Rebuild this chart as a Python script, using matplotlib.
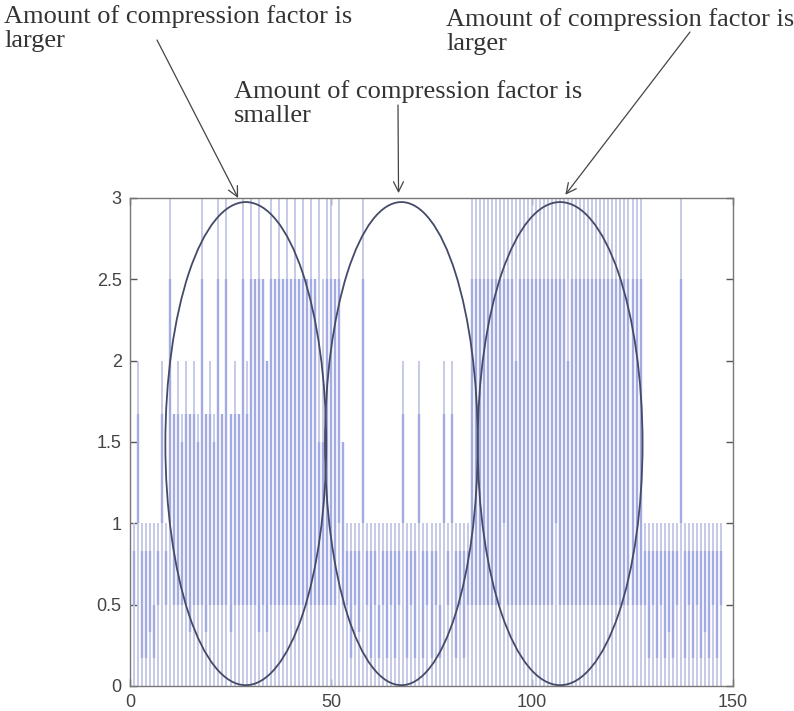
import matplotlib
matplotlib.use('Agg')
import matplotlib.pyplot as plt
from matplotlib.patches import Ellipse

# ----------------------------------------------------
#  Compression factor per sample (one column per sample)
# ----------------------------------------------------
samples = list(range(1, 148))

# top of each column
peak = [
    1, 2, 1, 1, 1, 1, 1, 2, 1, 3,
    1.67, 2, 1.67, 2, 1.67, 2, 1.67, 3, 1.67, 2,
    1.67, 3, 1.67, 3, 1.67, 2, 1.67, 3, 2, 3,
    2.5, 3, 2.5, 2, 3, 2.5, 3, 2.5, 3, 2.5,
    3, 2.5, 3, 2.5, 3, 2.5, 3, 2.5, 3, 3,
    2.5, 3, 1.5, 1, 1, 1, 1, 3, 1, 1,
    1, 1, 1, 1, 1, 1, 1, 2, 1, 1,
    1, 2, 1, 1, 1, 1, 1, 2, 1, 2,
    1, 1, 1, 1, 3, 3, 3, 3, 3, 3,
    3, 3, 3, 3, 3, 3, 3, 3, 3, 3,
    3, 3, 3, 3, 3, 3, 3, 3, 3, 3,
    3, 3, 3, 3, 3, 3, 3, 3, 3, 3,
    3, 3, 3, 3, 3, 3, 3, 1, 1, 1,
    1, 1, 1, 1, 1, 1, 3, 1, 1, 1,
    1, 1, 1, 1, 1, 1, 1,
]

# denser part of each column (lower / upper edge)
band_lo = [
    .5, 1, .17, .17, .33, .17, .5, 1, .5, 1,
    .5, .5, .5, .5, .33, .5, .5, .5, .33, .5,
    .5, .5, .5, .5, .33, .5, .5, .5, .5, .5,
    .5, .33, .5, .33, .5, .5, .5, .5, .5, .5,
    .5, .5, .5, .5, .5, .5, .5, .5, .5, .5,
    .5, 1, .5, .5, .17, .5, .33, 1, .5, .17,
    .5, .17, .5, .17, .5, .17, .5, 1, .17, .5,
    .17, 1, .17, .5, .17, .5, .17, 1, .5, 1,
    .17, .5, .17, .5, .5, .5, .5, .5, .5, .5,
    .5, .5, 1, .5, .5, .5, .5, .5, .5, .5,
    .5, .5, .5, .5, .5, 1, .5, .5, .5, .5,
    .5, .5, .5, .5, .5, .5, .5, .5, .5, .5,
    .5, .5, .5, .5, .5, .5, .5, .5, .17, .5,
    .17, .5, .17, .33, .17, .5, 1, .17, .5, .17,
    .5, .17, .33, .17, .5, .17, .5,
]

band_hi = [
    .83, 1.67, .83, .83, .83, .5, .83, 1.67, .83, 2.5,
    1.67, 1.67, 1.5, 1.67, 1.67, 1.67, 1.5, 2.5, 1.67, 1.67,
    1.5, 2.5, 1.67, 2.5, 1.67, 1.67, 1.67, 2.5, 1.67, 2.5,
    2.5, 2.5, 2.5, 2, 2.5, 2.5, 2.5, 2.5, 2.5, 2.5,
    2.5, 2.5, 2.5, 2.5, 2.5, 2.5, 1.5, 1.5, 2.5, 2.5,
    2.5, 2.5, 1.5, .83, .83, .83, .83, 2.5, .83, .83,
    .83, .5, .83, .83, .83, .83, .83, 1.67, .83, .83,
    .83, 1.67, .83, .83, .83, .83, .5, 1.67, .83, 1.67,
    .83, .83, .83, .83, 2.5, 2.5, 2.5, 2.5, 2.5, 2.5,
    2.5, 2.5, 2.5, 2.5, 2.5, 2, 2.5, 2.5, 2.5, 2.5,
    2.5, 2.5, 2.5, 2.5, 2.5, 2.5, 2.5, 2.5, 2, 2.5,
    2.5, 2.5, 2.5, 2.5, 2.5, 2.5, 2.5, 2.5, 2.5, 2.5,
    2.5, 2.5, 2.5, 2.5, 2.5, 2.5, 2.5, .83, .83, .83,
    .83, .83, .83, .83, .83, .83, 2.5, .83, .83, .83,
    .83, .83, .83, .83, .83, .83, .83,
]

# regions circled on the plot
ell_cx = [28.8, 67.5, 107.0]
ell_cy = [1.49, 1.49, 1.49]
ell_w = [40.0, 38.0, 41.0]
ell_h = [2.97, 2.97, 2.97]

labels = [
    'Amount of compression factor is\nlarger',
    'Amount of compression factor is\nsmaller',
    'Amount of compression factor is\nlarger',
]
label_px = [(4, 5), (234, 80), (446, 8)]          # figure pixels, from top-left
arrow_tail_px = [(157, 40), (398, 105), (690, 32)]
arrow_tip = [(26.9, 3.0), (66.8, 3.03), (108.3, 3.02)]

W, H = 794, 711
fig = plt.figure(figsize=(W / 100, H / 100), dpi=100)
ax = fig.add_axes([130 / W, 25 / H, 603 / W, 488 / H])

ax.vlines(samples, 0, peak, colors='#bfc4e5', linewidth=1.25)
ax.vlines(samples, band_lo, band_hi, colors='#a2abe2', linewidth=1.7)

for cx, cy, w, h in zip(ell_cx, ell_cy, ell_w, ell_h):
    ax.add_patch(Ellipse((cx, cy), w, h, fill=False, edgecolor='#454a66',
                         linewidth=1.3, zorder=3))

ax.set_xlim(0, 150)
ax.set_ylim(0, 3)
ax.set_xticks([0, 50, 100, 150])
ax.set_yticks([0, 0.5, 1, 1.5, 2, 2.5, 3])
ax.set_yticklabels(['0', '0.5', '1', '1.5', '2', '2.5', '3'])
ax.tick_params(direction='in', length=5, width=1, top=True, right=True,
               labelsize=13, labelcolor='#444', color='#555', pad=6)
for lbl in ax.get_xticklabels() + ax.get_yticklabels():
    lbl.set_family('Liberation Sans')
for s in ax.spines.values():
    s.set_color('#777')
    s.set_linewidth(1.0)

for text, (tx, ty) in zip(labels, label_px):
    fig.text(tx / W, 1 - ty / H, text, family='Liberation Serif', fontsize=19,
             color='#333', ha='left', va='top', linespacing=1.12)

for (px, py), tip in zip(arrow_tail_px, arrow_tip):
    ax.annotate('', xy=tip, xycoords='data',
                xytext=(px, H - py), textcoords='figure pixels',
                arrowprops=dict(arrowstyle='->', color='#444', lw=0.9,
                                shrinkA=0, shrinkB=0, mutation_scale=18),
                annotation_clip=False)

fig.savefig('out.png', dpi=100)
